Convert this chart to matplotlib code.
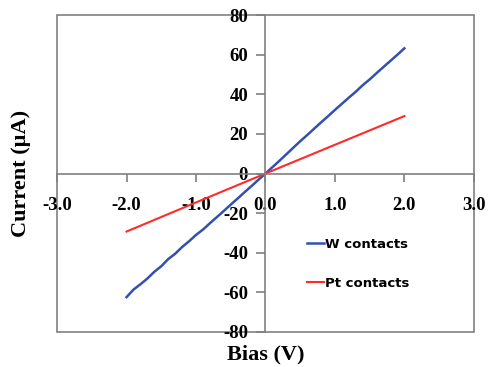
import matplotlib.pyplot as plt
from matplotlib.patches import Rectangle

# Bias (V) and current (uA)
bias_w = [-2.0, -1.9, -1.8, -1.7, -1.6, -1.5, -1.4, -1.3, -1.2, -1.1, -1.0,
          -0.9, -0.8, -0.7, -0.6, -0.5, -0.4, -0.3, -0.2, -0.1, 0.0,
          0.1, 0.2, 0.3, 0.4, 0.5, 0.6, 0.7, 0.8, 0.9, 1.0,
          1.1, 1.2, 1.3, 1.4, 1.5, 1.6, 1.7, 1.8, 1.9, 2.0]
current_w = [-62.4, -58.6, -55.9, -53.0, -49.6, -46.8, -43.2, -40.5, -37.1, -34.2, -31.0,
             -28.3, -25.1, -22.0, -18.9, -15.7, -12.6, -9.4, -6.3, -3.1, 0.0,
             3.2, 6.4, 9.7, 13.0, 16.3, 19.4, 22.6, 25.8, 28.9, 32.1,
             35.2, 38.3, 41.3, 44.6, 47.5, 50.7, 53.8, 56.9, 60.0, 63.2]

bias_pt = [-2.0, -1.0, 0.0, 1.0, 2.0]
current_pt = [-29.3, -14.6, 0.0, 14.5, 29.0]

xticks = [-3, -2, -1, 0, 1, 2, 3]
yticks = [-80, -60, -40, -20, 0, 20, 40, 60, 80]

fig = plt.figure(figsize=(4.88, 3.67), dpi=100)
ax = fig.add_axes([0.117, 0.0954, 0.854, 0.8636])

ax.plot(bias_w, current_w, color='#3350b0', lw=1.8, label='W contacts')
ax.plot(bias_pt, current_pt, color='#ff2a2a', lw=1.5, label='Pt contacts')

ax.set_xlim(-3, 3)
ax.set_ylim(-80, 80)

grey = '#808080'
ax.spines['left'].set_position(('data', 0))
ax.spines['bottom'].set_position(('data', 0))
ax.spines['top'].set_visible(False)
ax.spines['right'].set_visible(False)
for s in ['left', 'bottom']:
    ax.spines[s].set_color(grey)
    ax.spines[s].set_linewidth(1.2)
ax.add_patch(Rectangle((0, 0), 1, 1, transform=ax.transAxes, fill=False,
                       edgecolor=grey, lw=1.2, clip_on=False, zorder=0))

ax.set_xticks(xticks)
ax.set_xticklabels(['%.1f' % v for v in xticks])
ax.set_yticks(yticks)
ax.set_yticklabels([str(v) for v in yticks])

tickfont = dict(family='Liberation Serif', weight='bold', size=13.5)
for lab in ax.get_xticklabels() + ax.get_yticklabels():
    lab.set(**tickfont)
ax.tick_params(axis='x', length=6, width=1.2, color=grey, pad=11)
ax.tick_params(axis='y', length=6.5, width=1.2, color=grey, pad=6)

ax.set_xlabel('Bias (V)', family='Liberation Serif', weight='bold', size=16)
ax.set_ylabel('Current (\u00b5A)', family='Liberation Serif', weight='bold', size=16)
ax.xaxis.set_label_coords(0.5, -0.04)
ax.yaxis.set_label_coords(-0.062, 0.5)

ax.legend(loc='upper left', bbox_to_anchor=(0.57, 0.335), frameon=False,
          handlelength=1.3, handletextpad=0.1, labelspacing=2.0,
          prop=dict(family='DejaVu Sans', weight='bold', size=9.5))

fig.savefig('out.png', dpi=100)
